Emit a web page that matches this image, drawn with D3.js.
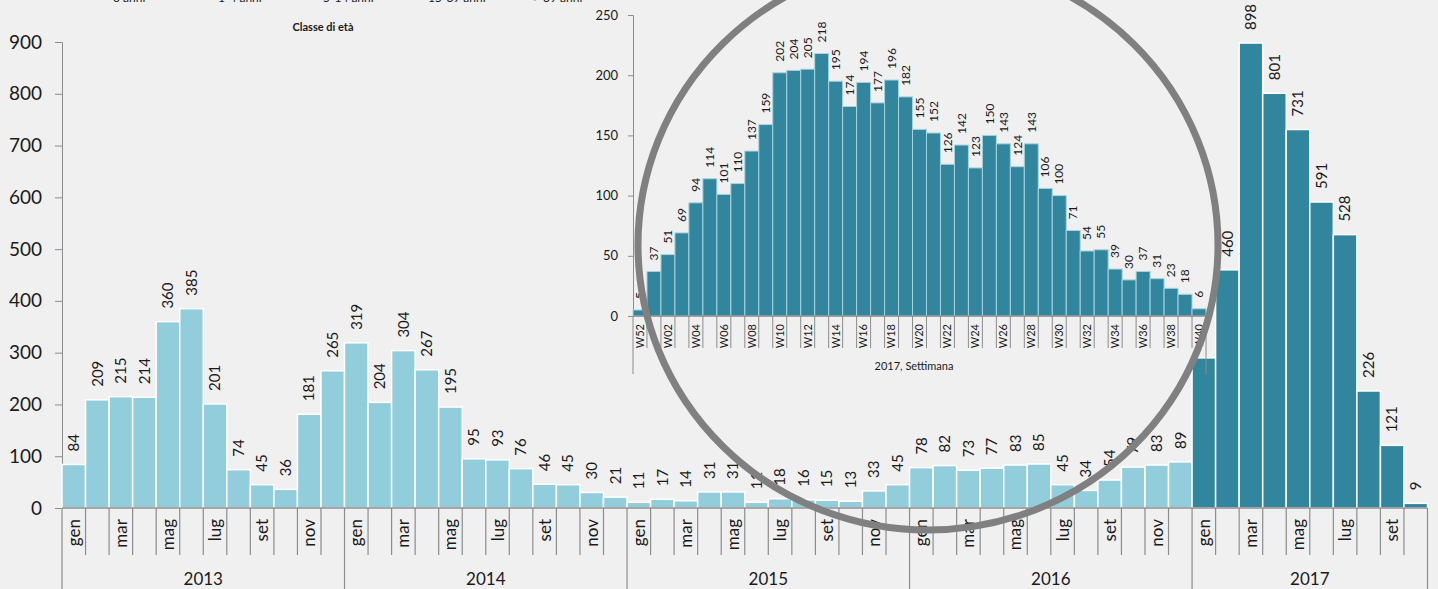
<!DOCTYPE html>
<html>
<head>
<meta charset="utf-8">
<script src="https://cdn.jsdelivr.net/npm/d3@7"></script>
<style>
  html, body { margin: 0; padding: 0; background: #f0f0f0; }
  svg { display: block; font-family: Lato, "Open Sans", sans-serif; }
</style>
</head>
<body>
<div id="chart"></div>
<script>
// monthly cases, one array per year
var monthNames = ["gen", "feb", "mar", "apr", "mag", "giu", "lug", "ago", "set", "ott", "nov", "dic"];
var years = ["2013", "2014", "2015", "2016", "2017"];
var cases2013 = [84, 209, 215, 214, 360, 385, 201, 74, 45, 36, 181, 265];
var cases2014 = [319, 204, 304, 267, 195, 95, 93, 76, 46, 45, 30, 21];
var cases2015 = [11, 17, 14, 31, 31, 11, 18, 16, 15, 13, 33, 45];
var cases2016 = [78, 82, 73, 77, 83, 85, 45, 34, 54, 79, 83, 89];
var cases2017 = [290, 460, 898, 801, 731, 591, 528, 226, 121, 9];
var yTicks = [0, 100, 200, 300, 400, 500, 600, 700, 800, 900];

// weekly cases 2017 (inset)
var weekLabels = ["W52", "W01", "W02", "W03", "W04", "W05", "W06", "W07", "W08", "W09", "W10",
  "W11", "W12", "W13", "W14", "W15", "W16", "W17", "W18", "W19", "W20",
  "W21", "W22", "W23", "W24", "W25", "W26", "W27", "W28", "W29", "W30",
  "W31", "W32", "W33", "W34", "W35", "W36", "W37", "W38", "W39", "W40"];
var weekCases = [5, 37, 51, 69, 94, 114, 101, 110, 137, 159, 202,
  204, 205, 218, 195, 174, 194, 177, 196, 182, 155,
  152, 126, 142, 123, 150, 143, 124, 143, 106, 100,
  71, 54, 55, 39, 30, 37, 31, 23, 18, 6];
var yTicksInset = [0, 50, 100, 150, 200, 250];
var insetTitle = "2017, Settimana";

var legendTitle = "Classe di età";
var legendLabels = ["0 anni", "1-4 anni", "5-14 anni", "15-39 anni", "> 39 anni"];

var W = 1438, H = 589;
var axisColor = "#8c8c8c", textColor = "#1a1a1a";

var svg = d3.select("#chart").append("svg")
    .attr("width", W)
    .attr("height", H);

// flatten months
var allYears = [cases2013, cases2014, cases2015, cases2016, cases2017];
var data = [];
allYears.forEach(function(arr, yi) {
    arr.forEach(function(v, mi) {
        data.push({ year: years[yi], month: monthNames[mi], mi: mi, value: v, i: data.length });
    });
});

// main scales
var x = d3.scaleBand()
    .domain(data.map(function(d) { return d.i; }))
    .range([62, 1427.5])
    .padding(0);
var y = d3.scaleLinear()
    .domain([0, 900])
    .range([508, 42]);

// legend (cut off at top)
svg.append("g").selectAll("text")
    .data(legendLabels)
    .enter().append("text")
    .attr("x", function(d, i) { return 113 + i * 105; })
    .attr("y", 2)
    .attr("font-size", 12)
    .attr("fill", textColor)
    .text(function(d) { return d; });
svg.append("text")
    .attr("x", 323).attr("y", 31)
    .attr("text-anchor", "middle")
    .attr("font-size", 11)
    .attr("font-weight", "bold")
    .attr("fill", textColor)
    .text(legendTitle);

// Y axis
var yAxis = svg.append("g")
    .attr("transform", "translate(62,0)")
    .call(d3.axisLeft(y).tickValues(yTicks).tickSize(7).tickPadding(13));
yAxis.select(".domain").attr("stroke", axisColor);
yAxis.selectAll(".tick line").attr("stroke", axisColor);
yAxis.selectAll("text")
    .attr("font-size", 19)
    .attr("font-family", "Lato, sans-serif")
    .attr("fill", textColor);

// bars
svg.append("g").selectAll("rect")
    .data(data)
    .enter().append("rect")
    .attr("x", function(d) { return x(d.i); })
    .attr("width", x.bandwidth())
    .attr("y", function(d) { return y(d.value); })
    .attr("height", function(d) { return y(0) - y(d.value); })
    .attr("fill", function(d) { return d.year === "2017" ? "#31859C" : "#92CDDC"; })
    .attr("stroke", "#ffffff")
    .attr("stroke-width", 1.5);

// value labels
svg.append("g").selectAll("text")
    .data(data)
    .enter().append("text")
    .attr("transform", function(d) {
        return "translate(" + (x(d.i) + x.bandwidth() / 2) + "," + (y(d.value) - 13) + ") rotate(-90)";
    })
    .attr("dy", "0.35em")
    .attr("font-size", 15)
    .attr("fill", textColor)
    .text(function(d) { return d.value; });

// category axis: baseline, month ticks, year dividers
svg.append("line")
    .attr("x1", 62).attr("x2", 1427.5)
    .attr("y1", y(0)).attr("y2", y(0))
    .attr("stroke", axisColor).attr("stroke-width", 1.5);
var bounds = d3.range(data.length + 1);
svg.append("g").selectAll("line")
    .data(bounds)
    .enter().append("line")
    .attr("x1", function(b) { return b < data.length ? x(b) : x(b - 1) + x.bandwidth(); })
    .attr("x2", function(b) { return b < data.length ? x(b) : x(b - 1) + x.bandwidth(); })
    .attr("y1", y(0))
    .attr("y2", function(b) { return (b % 12 === 0 || b === data.length) ? H : 555; })
    .attr("stroke", axisColor)
    .attr("stroke-width", 1.2);

svg.append("g").selectAll("text")
    .data(data.filter(function(d) { return d.mi % 2 === 0; }))
    .enter().append("text")
    .attr("transform", function(d) {
        return "translate(" + (x(d.i) + x.bandwidth() / 2) + ",519) rotate(-90)";
    })
    .attr("dy", "0.35em")
    .attr("text-anchor", "end")
    .attr("font-size", 17)
    .attr("fill", textColor)
    .text(function(d) { return d.month; });

svg.append("g").selectAll("text")
    .data(years)
    .enter().append("text")
    .attr("x", function(yr, yi) {
        var first = yi * 12, n = allYears[yi].length;
        return x(first) + n * x.bandwidth() / 2;
    })
    .attr("y", 585)
    .attr("text-anchor", "middle")
    .attr("font-size", 17)
    .attr("fill", textColor)
    .text(function(d) { return d; });

// ---- inset: weekly 2017 ----
var inset = svg.append("g");
inset.append("rect")
    .attr("x", 585).attr("y", 0)
    .attr("width", 629).attr("height", 357)
    .attr("fill", "#f0f0f0");

var xw = d3.scaleBand()
    .domain(weekLabels)
    .range([633, 1206])
    .padding(0);
var yw = d3.scaleLinear()
    .domain([0, 250])
    .range([316, 15]);

var yAxisW = inset.append("g")
    .attr("transform", "translate(633,0)")
    .call(d3.axisLeft(yw).tickValues(yTicksInset).tickSize(5).tickPadding(10));
yAxisW.select(".domain").attr("stroke", axisColor);
yAxisW.selectAll(".tick line").attr("stroke", axisColor);
yAxisW.selectAll("text")
    .attr("font-size", 13)
    .attr("font-family", "Lato, sans-serif")
    .attr("fill", textColor);

inset.append("g").selectAll("rect")
    .data(weekCases)
    .enter().append("rect")
    .attr("x", function(d, i) { return xw(weekLabels[i]); })
    .attr("width", xw.bandwidth())
    .attr("y", function(d) { return yw(d); })
    .attr("height", function(d) { return yw(0) - yw(d); })
    .attr("fill", "#31859C")
    .attr("stroke", "#a9d3de")
    .attr("stroke-width", 1);

inset.append("g").selectAll("text")
    .data(weekCases)
    .enter().append("text")
    .attr("transform", function(d, i) {
        return "translate(" + (xw(weekLabels[i]) + xw.bandwidth() / 2) + "," + (yw(d) - 11) + ") rotate(-90)";
    })
    .attr("dy", "0.35em")
    .attr("font-size", 12)
    .attr("fill", textColor)
    .text(function(d) { return d; });

inset.append("line")
    .attr("x1", 633).attr("x2", 1206)
    .attr("y1", yw(0)).attr("y2", yw(0))
    .attr("stroke", axisColor).attr("stroke-width", 1.5);
inset.append("g").selectAll("line")
    .data(d3.range(weekLabels.length + 1))
    .enter().append("line")
    .attr("x1", function(b) { return 633 + b * xw.bandwidth(); })
    .attr("x2", function(b) { return 633 + b * xw.bandwidth(); })
    .attr("y1", yw(0))
    .attr("y2", function(b) { return (b === 0 || b === weekLabels.length) ? 374 : 348; })
    .attr("stroke", axisColor)
    .attr("stroke-width", 1);

inset.append("g").selectAll("text")
    .data(weekLabels.filter(function(d, i) { return i % 2 === 0; }))
    .enter().append("text")
    .attr("transform", function(d) {
        return "translate(" + (xw(d) + xw.bandwidth() / 2) + ",324) rotate(-90)";
    })
    .attr("dy", "0.35em")
    .attr("text-anchor", "end")
    .attr("font-size", 11)
    .attr("fill", textColor)
    .text(function(d) { return d; });

inset.append("text")
    .attr("x", 914).attr("y", 370)
    .attr("text-anchor", "middle")
    .attr("font-size", 11)
    .attr("fill", textColor)
    .text(insetTitle);

// magnifier ring
svg.append("ellipse")
    .attr("cx", 928).attr("cy", 245)
    .attr("rx", 290).attr("ry", 285)
    .attr("fill", "none")
    .attr("stroke", "#808080")
    .attr("stroke-width", 7);
</script>
</body>
</html>
